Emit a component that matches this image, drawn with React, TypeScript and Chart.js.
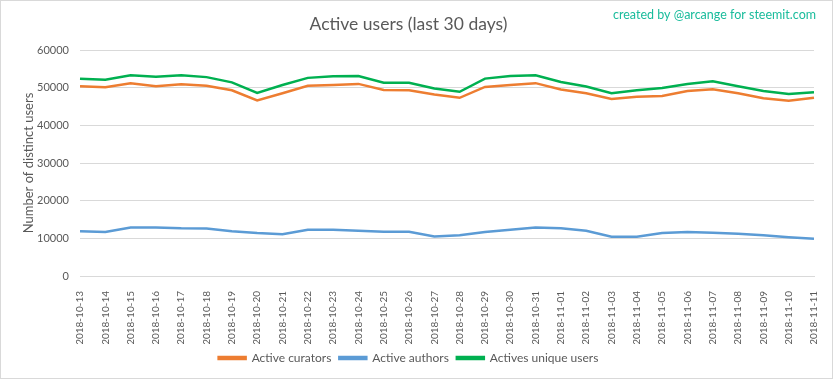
import React, { useEffect, useRef } from "react";
import { Chart, registerables } from "chart.js";

Chart.register(...registerables);

const labels = [
  "2018-10-13", "2018-10-14", "2018-10-15", "2018-10-16", "2018-10-17", "2018-10-18",
  "2018-10-19", "2018-10-20", "2018-10-21", "2018-10-22", "2018-10-23", "2018-10-24",
  "2018-10-25", "2018-10-26", "2018-10-27", "2018-10-28", "2018-10-29", "2018-10-30",
  "2018-10-31", "2018-11-01", "2018-11-02", "2018-11-03", "2018-11-04", "2018-11-05",
  "2018-11-06", "2018-11-07", "2018-11-08", "2018-11-09", "2018-11-10", "2018-11-11",
];

const curators = [
  50400, 50100, 51200, 50400, 50900, 50500, 49300, 46600, 48500, 50500,
  50700, 51000, 49400, 49300, 48200, 47300, 50200, 50700, 51200, 49500,
  48500, 47000, 47600, 47800, 49100, 49600, 48500, 47200, 46500, 47300,
];

const authors = [
  11900, 11700, 12900, 12900, 12650, 12600, 11900, 11400, 11100, 12300,
  12300, 12000, 11750, 11750, 10500, 10800, 11700, 12300, 12900, 12650,
  12000, 10400, 10400, 11400, 11700, 11500, 11200, 10800, 10300, 9900,
];

const uniqueUsers = [
  52400, 52100, 53300, 52900, 53300, 52800, 51400, 48600, 50700, 52600,
  53000, 53100, 51300, 51300, 49800, 48900, 52400, 53100, 53300, 51500,
  50300, 48500, 49300, 49900, 51000, 51700, 50400, 49100, 48300, 48800,
];

const yTicks = [0, 10000, 20000, 30000, 40000, 50000, 60000];

const TEXT = "#595959";
const FONT = "Lato, 'Open Sans', sans-serif";

export default function App() {
  const ref = useRef<HTMLCanvasElement | null>(null);

  useEffect(() => {
    document.body.style.margin = "0";
    const canvas = ref.current;
    if (!canvas) return;

    const framePlugin = {
      id: "frame",
      beforeDraw(chart: any) {
        const ctx = chart.ctx;
        ctx.save();
        ctx.fillStyle = "#ffffff";
        ctx.fillRect(0, 0, chart.width, chart.height);
        ctx.restore();
      },
      afterDraw(chart: any) {
        const ctx = chart.ctx;
        ctx.save();
        ctx.strokeStyle = "#d9d9d9";
        ctx.lineWidth = 1;
        ctx.strokeRect(0.5, 0.5, chart.width - 1, chart.height - 1);
        ctx.fillStyle = "#1abc9c";
        ctx.font = "12.5px " + FONT;
        ctx.textAlign = "right";
        ctx.textBaseline = "middle";
        ctx.fillText("created by @arcange for steemit.com", 816, 15);
        ctx.restore();
      },
    };

    const chart = new Chart(canvas, {
      type: "line",
      data: {
        labels,
        datasets: [
          {
            label: "Active curators",
            data: curators,
            borderColor: "#ED7D31",
            backgroundColor: "#ED7D31",
            borderWidth: 2.5,
            pointRadius: 0,
            tension: 0,
          },
          {
            label: "Active authors",
            data: authors,
            borderColor: "#5B9BD5",
            backgroundColor: "#5B9BD5",
            borderWidth: 2.5,
            pointRadius: 0,
            tension: 0,
          },
          {
            label: "Actives unique users",
            data: uniqueUsers,
            borderColor: "#00B050",
            backgroundColor: "#00B050",
            borderWidth: 2.5,
            pointRadius: 0,
            tension: 0,
          },
        ],
      },
      options: {
        animation: false,
        responsive: true,
        maintainAspectRatio: false,
        layout: { padding: { left: 0, right: 16, top: 0, bottom: 5 } },
        plugins: {
          title: {
            display: true,
            text: "Active users (last 30 days)",
            color: TEXT,
            font: { family: FONT, size: 17.5, weight: "normal" },
            padding: { top: 14, bottom: 15 },
          },
          legend: {
            position: "bottom",
            labels: {
              color: TEXT,
              font: { family: FONT, size: 12 },
              boxWidth: 27,
              boxHeight: 2,
              padding: 8,
            },
          },
          tooltip: { enabled: false },
        },
        scales: {
          x: {
            grid: { display: false },
            border: { display: true, color: "#d9d9d9" },
            ticks: {
              color: TEXT,
              font: { family: FONT, size: 10 },
              maxRotation: 90,
              minRotation: 90,
              autoSkip: false,
              padding: 7,
            },
            afterFit(scale: any) {
              scale.height = 68;
            },
          },
          y: {
            min: 0,
            max: 60000,
            afterBuildTicks(scale: any) {
              scale.ticks = yTicks.map((v) => ({ value: v }));
            },
            grid: { color: "#d9d9d9", drawTicks: false },
            border: { display: false },
            ticks: {
              color: TEXT,
              font: { family: FONT, size: 11 },
              padding: 11,
              callback: (v: any) => String(v),
            },
            title: {
              display: true,
              text: "Number of distinct users",
              color: TEXT,
              font: { family: FONT, size: 13 },
              padding: { top: 21, bottom: 0 },
            },
            afterFit(scale: any) {
              scale.width = 80;
            },
          },
        },
      },
      plugins: [framePlugin],
    });

    return () => chart.destroy();
  }, []);

  return (
    <div style={{ width: 833, height: 379, position: "relative" }}>
      <canvas ref={ref} />
    </div>
  );
}
